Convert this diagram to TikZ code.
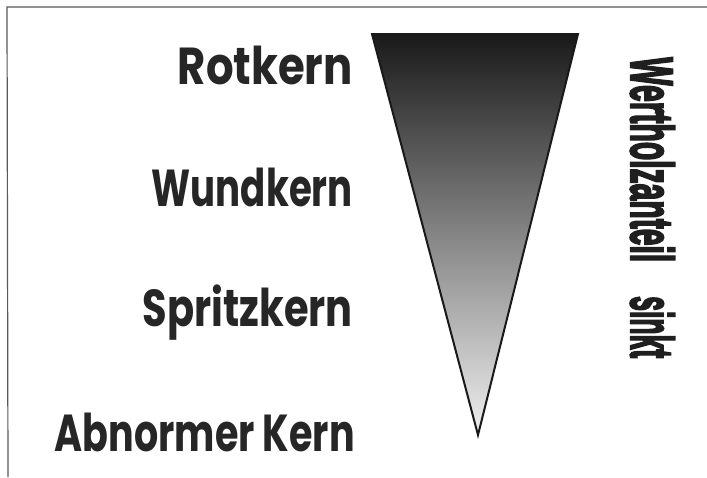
\documentclass[tikz,border=0pt]{standalone}
\usepackage{fontspec}
\setmainfont{Liberation Sans}
\newfontfamily\labfont{Poppins}
\newfontfamily\vertfont{Liberation Sans}[BoldFeatures={FakeBold=4}]
\begin{document}
\begin{tikzpicture}[x=1pt,y=-1pt,
  lab/.style={anchor=base east,inner sep=0pt,text=black!85,font=\labfont\bfseries\fontsize{52}{52}\selectfont},
  vlab/.style={anchor=base west,inner sep=0pt,rotate=-90,text=black!88,font=\vertfont\bfseries\fontsize{60}{60}\selectfont},
  frameline/.style={draw=black!65,line width=1.2pt}]
\useasboundingbox (0,0) rectangle (707,477);
\fill[white] (0,0) rectangle (707,477);
% frame
\coordinate (ftl) at (7,7);
\coordinate (fbl) at (8,477);
\coordinate (ftr) at (707,7);
\draw[frameline] (fbl) -- (ftl) -- (ftr);
% wedge
\coordinate (tl) at (372,34);
\coordinate (tr) at (578,34);
\coordinate (ap) at (478,435);
\shade[top color=black!90, middle color=black!50, bottom color=black!6]
  (tl) -- (tr) -- (ap) -- cycle;
\draw[black!90,line width=2pt,line join=miter] (tl) -- (tr) -- (ap) -- cycle;
% labels
\node[lab] (rot) at (353,84) {\resizebox{175pt}{\height}{Rotkern}};
\node[lab] (wund) at (353,206) {\resizebox{201pt}{\height}{Wundkern}};
\node[lab] (spritz) at (353,326) {\resizebox{210pt}{\height}{Spritzkern}};
\node[lab] (abn) at (355,451) {\resizebox{300pt}{\height}{Abnormer Kern}};
% vertical text
\node[vlab] (wert) at (631,57) {\resizebox{205pt}{\height}{Wertholzanteil}};
\node[vlab] (sinkt) at (631,296) {\resizebox{62pt}{\height}{sinkt}};
\end{tikzpicture}
\end{document}
